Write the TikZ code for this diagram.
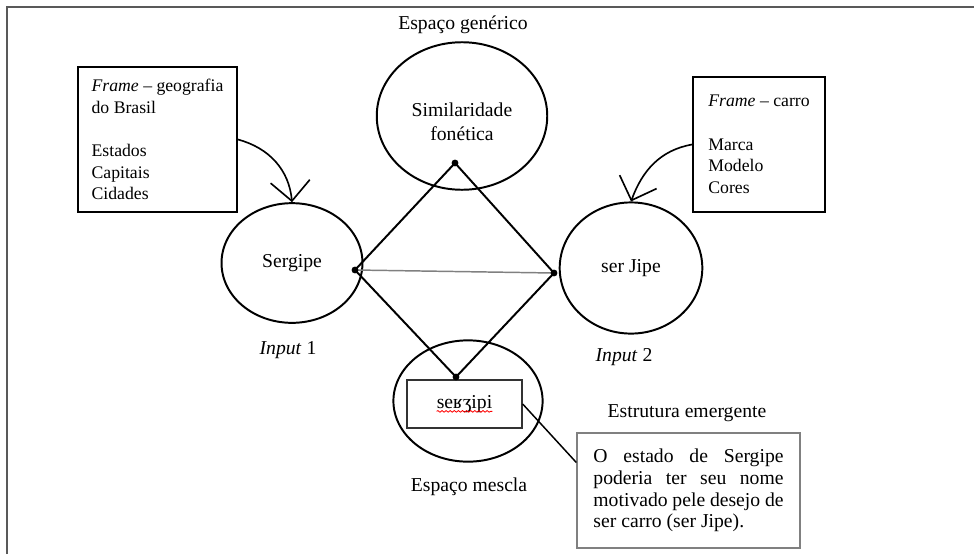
\documentclass[tikz,border=0pt]{standalone}
\usepackage{fontspec}
\setmainfont{Liberation Serif}
\usetikzlibrary{arrows.meta, shapes.geometric, decorations.pathmorphing}

\tikzset{
    space/.style={ellipse, draw, line width=1.2pt, inner sep=0pt, align=center},
    framebox/.style={draw, line width=1.1pt, align=left, font=\fontsize{10.8}{13.2}\selectfont},
    framearrow/.style={-{Straight Barb[length=12pt,width=24pt]}, line width=1pt},
    vertex/.style={fill=black},
}

\begin{document}
\begin{tikzpicture}[x=0.61pt, y=0.61pt, font=\fontsize{12}{13.2}\selectfont]
    \useasboundingbox (0,0) rectangle (974,-554);
    \draw[gray!70!black, line width=1.5pt] (7,-554) |- (974,-7);

    % spaces
    \node[space, minimum width=104pt, minimum height=90pt] (gen) at (462,-116) {\\[2pt]Similaridade\\[1pt]fonética};
    \node[space, minimum width=86pt, minimum height=73pt] (in1) at (292,-263) {Sergipe};
    \node[space, minimum width=87pt, minimum height=80pt] (in2) at (631,-268) {ser Jipe};
    \node[space, minimum width=91pt, minimum height=74pt] (blend) at (468,-401) {};

    \node (genlabel) at (463,-25) {Espaço genérico};
    \node (in1label) at (288,-350) {\textit{Input} 1};
    \node (in2label) at (624,-357) {\textit{Input} 2};
    \node (blendlabel) at (469,-487) {Espaço mescla};
    \node (emlabel) at (687,-413) {Estrutura emergente};

    % frames
    \node[framebox, minimum width=97pt, minimum height=88.5pt] (frame1) at (157.5,-139.5)
        {\textit{Frame} – geografia\\do Brasil\\[\baselineskip]Estados\\Capitais\\Cidades};
    \node[framebox, minimum width=80.5pt, minimum height=82pt] (frame2) at (759,-144.5)
        {\textit{Frame} – carro\\[\baselineskip]Marca\\Modelo\\Cores};
    \draw[framearrow] (frame1.east) to[out=-15, in=95] (in1.north);
    \draw[framearrow] (frame2.west) to[out=190, in=70] (in2.north);

    % diamond
    \coordinate (top) at (455,-163);
    \coordinate (lft) at (355,-270);
    \coordinate (rgt) at (554,-273);
    \coordinate (bot) at (456,-377);
    \draw[line width=1.2pt] (top) -- (rgt) -- (bot) -- (lft) -- cycle;
    \draw[gray, line width=0.9pt] (lft) -- (rgt);

    % blend
    \node[draw=black!80, line width=1pt, minimum width=70pt, minimum height=29pt] (ipa) at (464.5,-404) {seʁʒipi};
    \draw[red, line width=0.5pt, decorate, decoration={snake, amplitude=0.5pt, segment length=2.5pt}]
        ([xshift=-17pt, yshift=-4.5pt]ipa.center) -- ([xshift=17pt, yshift=-4.5pt]ipa.center);
    \foreach \v in {top, lft, rgt, bot}
        \fill[vertex] (\v) circle (2.1pt);

    \node[draw=gray, line width=0.8pt, text width=116pt, align=justify, inner xsep=10pt,
        minimum height=70pt] (emerg) at (688.5,-490.5)
        {O estado de Sergipe\linebreak poderia ter seu nome\linebreak motivado pele desejo de\linebreak ser carro (ser Jipe).};
    \draw[line width=0.9pt] (ipa.east) -- (emerg.166);
\end{tikzpicture}
\end{document}
